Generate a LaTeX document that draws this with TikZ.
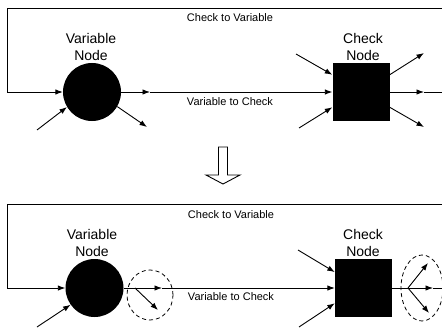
\documentclass[tikz,border=0pt]{standalone}
\usepackage{fontspec}
\setmainfont{Liberation Sans}
\usetikzlibrary{arrows.meta,shapes.geometric}
\begin{document}
\begin{tikzpicture}[x=1pt,y=-1pt,
  ln/.style={line width=0.9pt},
  arr/.style={ln,-{Latex[length=7.5pt,width=5.5pt]}},
  vnode/.style={circle,fill=black,minimum size=58pt,inner sep=0pt},
  cnode/.style={rectangle,fill=black,minimum width=57pt,minimum height=58pt,inner sep=0pt},
  nlabel/.style={font=\fontsize{14}{16.5}\selectfont,align=center,inner sep=0pt},
  elabel/.style={font=\fontsize{11}{13}\selectfont,inner sep=0pt},
  dring/.style={ellipse,draw,line width=0.8pt,dash pattern=on 4pt off 3pt,inner sep=0pt}
]
\useasboundingbox (0,0) rectangle (442,329);

% ---------- top panel ----------
\node[vnode] (v1) at (92,92) {};
\node[cnode] (c1) at (361,92) {};
\node[nlabel] (v1t) at (91,47) {Variable\\Node};
\node[nlabel] (c1t) at (363,47) {Check\\Node};
\node[elabel] (t1a) at (230,18) {Check to Variable};
\node[elabel] (t1b) at (230,102) {Variable to Check};
\coordinate (f1a) at (442,8);
\coordinate (f1b) at (7,8);
\coordinate (f1c) at (7,92);
\draw[arr] (f1a) -- (f1b) -- (f1c) -- (v1.west);
\coordinate (m1) at (150,92);
\draw[arr] (v1.east) -- (m1);
\draw[arr] (m1) -- (c1.west);
\coordinate (vin1) at (37,130);
\draw[arr] (vin1) -- (v1.211);
\coordinate (vout1) at (147,127);
\draw[arr] (v1.330) -- (vout1);
\coordinate (cin1a) at (296,54);
\coordinate (cin1b) at (299,128);
\draw[arr] (cin1a) -- (c1.149);
\draw[arr] (cin1b) -- (c1.208);
\coordinate (cout1a) at (424,53);
\coordinate (cout1m) at (424,92);
\coordinate (cout1b) at (424,127);
\coordinate (f1r) at (442,92);
\draw[arr] (c1.31) -- (cout1a);
\draw[arr] (c1.east) -- (cout1m);
\draw[ln] (cout1m) -- (f1r);
\draw[arr] (c1.-28) -- (cout1b);

% ---------- hollow down arrow ----------
\draw[line width=0.9pt, fill=white] (218.5,147) -- (227.5,147) -- (227.5,175) -- (240,175)
  -- (223,184) -- (206,175) -- (218.5,175) -- cycle;

% ---------- bottom panel ----------
\node[vnode] (v2) at (94.5,288) {};
\node[cnode] (c2) at (363.5,288) {};
\node[nlabel] (v2t) at (92,243) {Variable\\Node};
\node[nlabel] (c2t) at (363,243) {Check\\Node};
\node[elabel] (t2a) at (231,215) {Check to Variable};
\node[elabel] (t2b) at (231,297) {Variable to Check};
\coordinate (f2a) at (442,204);
\coordinate (f2b) at (7,204);
\coordinate (f2c) at (7,288);
\draw[arr] (f2a) -- (f2b) -- (f2c) -- (v2.west);
\coordinate (b2) at (135,288);
\coordinate (m2) at (162,288);
\coordinate (d2) at (158,310);
\draw[ln] (v2.east) -- (b2);
\draw[arr] (b2) -- (m2);
\draw[arr] (m2) -- (c2.west);
\draw[arr] (b2) -- (d2);
\node[dring, minimum width=46pt, minimum height=50pt] (r2) at (150,295) {};
\coordinate (vin2) at (37,327);
\draw[arr] (vin2) -- (v2.215);
\coordinate (cin2a) at (298,250);
\coordinate (cin2b) at (299,327);
\draw[arr] (cin2a) -- (c2.151);
\draw[arr] (cin2b) -- (c2.208);
\coordinate (b3) at (408,288);
\coordinate (cout2a) at (428,263);
\coordinate (cout2m) at (433,288);
\coordinate (cout2b) at (429,313);
\coordinate (f2r) at (442,288);
\draw[ln] (c2.east) -- (b3);
\draw[arr] (b3) -- (cout2a);
\draw[arr] (b3) -- (cout2m);
\draw[ln] (cout2m) -- (f2r);
\draw[arr] (b3) -- (cout2b);
\node[dring, minimum width=42pt, minimum height=66pt] (r3) at (422,288) {};
\end{tikzpicture}
\end{document}
